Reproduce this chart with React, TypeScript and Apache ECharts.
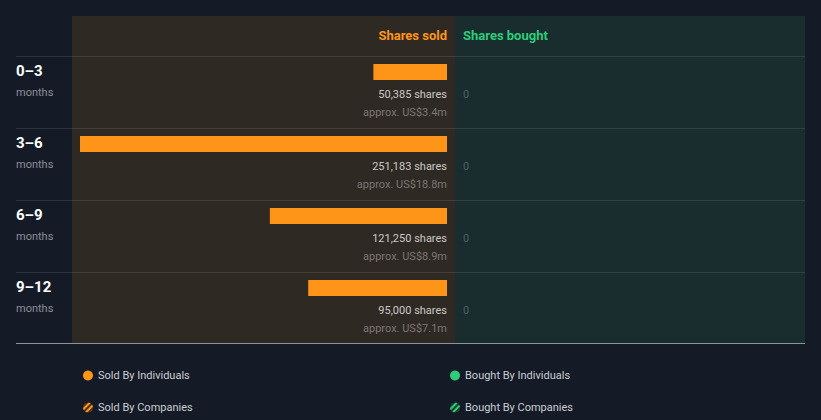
import React, { useEffect, useRef } from "react";
import * as echarts from "echarts";

const periods = ["0–3", "3–6", "6–9", "9–12"];
const soldShares = [50385, 251183, 121250, 95000];
const soldValue = ["US$3.4m", "US$18.8m", "US$8.9m", "US$7.1m"];
const boughtShares = [0, 0, 0, 0];
const companiesSold = [0, 0, 0, 0];
const companiesBought = [0, 0, 0, 0];
const axisMax = 251183;

const ORANGE = "#ff9518";
const GREEN = "#2ecc7a";
const FONT = "Roboto, 'Noto Sans', sans-serif";

export default function App() {
  const ref = useRef<HTMLDivElement>(null);

  useEffect(() => {
    document.body.style.margin = "0";
    const chart = echarts.init(ref.current!, undefined, { renderer: "svg" });
    const fmtNum = (n: number) => n.toLocaleString("en-US");
    const rowLines: any[] = [];
    [56, 128, 200, 272].forEach((y) => {
      rowLines.push({
        type: "line",
        shape: { x1: 16, y1: y + 0.5, x2: 805, y2: y + 0.5 },
        style: { stroke: "rgba(255,255,255,0.1)", lineWidth: 1 },
        z: 5,
      });
    });
    rowLines.push({
      type: "line",
      shape: { x1: 16, y1: 343.5, x2: 805, y2: 343.5 },
      style: { stroke: "rgba(220,230,230,0.6)", lineWidth: 1 },
      z: 5,
    });

    chart.setOption({
      animation: false,
      backgroundColor: "#151b26",
      textStyle: { fontFamily: FONT },
      graphic: [
        { type: "rect", shape: { x: 72, y: 16, width: 383, height: 327 }, style: { fill: "#2e2923" }, z: -10 },
        { type: "rect", shape: { x: 455, y: 16, width: 350, height: 327 }, style: { fill: "#192d2f" }, z: -10 },
        ...rowLines,
        {
          type: "text",
          x: 447,
          y: 35,
          style: { text: "Shares sold", fill: ORANGE, font: `bold 13px ${FONT}`, align: "right", verticalAlign: "middle" },
        },
        {
          type: "text",
          x: 463,
          y: 35,
          style: { text: "Shares bought", fill: GREEN, font: `bold 13px ${FONT}`, align: "left", verticalAlign: "middle" },
        },
      ],
      grid: [
        { left: 80, top: 36, width: 367, height: 288 },
        { left: 463, top: 36, width: 334, height: 288 },
      ],
      xAxis: [
        { type: "value", gridIndex: 0, inverse: true, min: 0, max: axisMax, show: false },
        { type: "value", gridIndex: 1, min: 0, max: axisMax, show: false },
      ],
      yAxis: [
        {
          type: "category",
          gridIndex: 0,
          inverse: true,
          data: periods,
          axisLine: { show: false },
          axisTick: { show: false },
          splitLine: { show: false },
          axisLabel: {
            align: "left",
            margin: 64,
            verticalAlign: "middle",
            formatter: (v: string) => `{a|${v}}\n{b|months}`,
            rich: {
              a: { fontSize: 15, fontWeight: "bold", color: "#ffffff", lineHeight: 40, fontFamily: FONT },
              b: { fontSize: 11, color: "#8b9097", lineHeight: 2, fontFamily: FONT },
            },
          },
        },
        { type: "category", gridIndex: 1, inverse: true, data: periods, show: false },
      ],
      legend: [
        {
          orient: "vertical",
          left: 78,
          top: 365,
          itemWidth: 10,
          itemHeight: 10,
          itemGap: 21,
          icon: "circle",
          data: ["Sold By Individuals", "Sold By Companies"],
          textStyle: { color: "#c9cdd2", fontSize: 11, fontFamily: FONT },
        },
        {
          orient: "vertical",
          left: 445,
          top: 365,
          itemWidth: 10,
          itemHeight: 10,
          itemGap: 21,
          icon: "circle",
          data: ["Bought By Individuals", "Bought By Companies"],
          textStyle: { color: "#c9cdd2", fontSize: 11, fontFamily: FONT },
        },
      ],
      series: [
        {
          name: "Sold By Individuals",
          type: "bar",
          xAxisIndex: 0,
          yAxisIndex: 0,
          stack: "sold",
          barWidth: 16,
          data: soldShares,
          itemStyle: { color: ORANGE },
        },
        {
          name: "Sold By Companies",
          type: "bar",
          xAxisIndex: 0,
          yAxisIndex: 0,
          stack: "sold",
          barWidth: 16,
          data: companiesSold,
          itemStyle: {
            color: "#4a3218",
            decal: { symbol: "rect", color: ORANGE, dashArrayX: [1, 0], dashArrayY: [2, 2], rotation: -Math.PI / 4 },
          },
        },
        {
          name: "Bought By Individuals",
          type: "bar",
          xAxisIndex: 1,
          yAxisIndex: 1,
          stack: "bought",
          barWidth: 16,
          data: boughtShares,
          itemStyle: { color: GREEN },
        },
        {
          name: "Bought By Companies",
          type: "bar",
          xAxisIndex: 1,
          yAxisIndex: 1,
          stack: "bought",
          barWidth: 16,
          data: companiesBought,
          itemStyle: {
            color: "#16402c",
            decal: { symbol: "rect", color: GREEN, dashArrayX: [1, 0], dashArrayY: [2, 2], rotation: -Math.PI / 4 },
          },
        },
        {
          type: "scatter",
          xAxisIndex: 0,
          yAxisIndex: 0,
          symbolSize: 0,
          silent: true,
          data: periods.map((_, i) => [0, i]),
          label: {
            show: true,
            position: "left",
            distance: 0,
            offset: [0, 31],
            formatter: (p: any) => `{s|${fmtNum(soldShares[p.dataIndex])} shares}\n{v|approx. ${soldValue[p.dataIndex]}}`,
            rich: {
              s: { fontSize: 11, color: "#f2f2f2", lineHeight: 18, align: "right", fontFamily: FONT },
              v: { fontSize: 11, color: "#8e8e8e", lineHeight: 18, align: "right", fontFamily: FONT },
            },
          },
        },
        {
          type: "scatter",
          xAxisIndex: 1,
          yAxisIndex: 1,
          symbolSize: 0,
          silent: true,
          data: periods.map((_, i) => [0, i]),
          label: {
            show: true,
            position: "right",
            distance: 0,
            offset: [0, 22],
            formatter: (p: any) => `${fmtNum(boughtShares[p.dataIndex])}`,
            fontSize: 11,
            color: "#5f6d6c",
            fontFamily: FONT,
          },
        },
      ],
    });
    return () => chart.dispose();
  }, []);

  return <div ref={ref} style={{ width: 821, height: 420 }} />;
}
